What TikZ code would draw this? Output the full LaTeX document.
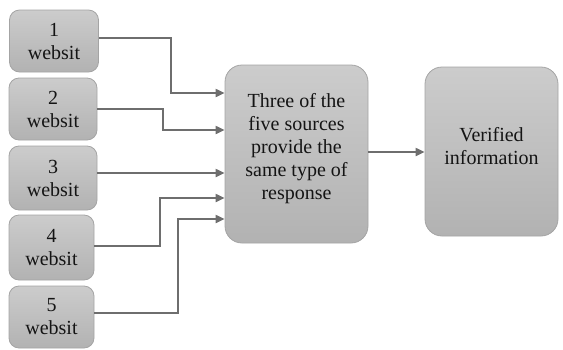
\documentclass[tikz,border=0pt]{standalone}
\usepackage{fontspec}
\setmainfont{Liberation Serif}
\newfontfamily\labelserif{Liberation Serif}
\usetikzlibrary{arrows.meta}
\definecolor{boxtop}{HTML}{CCCCCC}
\definecolor{boxbot}{HTML}{B2B2B2}
\definecolor{boxline}{HTML}{A4A4A4}
\definecolor{connline}{HTML}{6E6E6E}
\definecolor{txt}{HTML}{141414}
\tikzset{
  srcbox/.style={draw=boxline, line width=0.8pt, top color=boxtop, bottom color=boxbot,
    rounded corners=10pt, align=center, text=txt, inner sep=0pt,
    font=\labelserif\fontsize{20}{23}\selectfont},
  bigbox/.style={draw=boxline, line width=0.8pt, top color=boxtop, bottom color=boxbot,
    rounded corners=17pt, inner sep=0pt},
  boxtext/.style={align=center, text=txt, font=\labelserif\fontsize{20}{23}\selectfont},
  conn/.style={draw=connline, line width=2pt,
    -{Triangle[length=9pt,width=8pt]}}
}
\begin{document}
\begin{tikzpicture}[x=1pt,y=-1pt]
\useasboundingbox (0,0) rectangle (563,349);

% source websites
\node[srcbox, minimum width=89pt, minimum height=62pt] (w1) at (54,41) {1\\websit};
\node[srcbox, minimum width=88pt, minimum height=62pt] (w2) at (53,109) {2\\websit};
\node[srcbox, minimum width=88pt, minimum height=64pt] (w3) at (53,178) {3\\websit};
\node[srcbox, minimum width=85pt, minimum height=65pt] (w4) at (51.5,247.5) {4\\websit};
\node[srcbox, minimum width=85pt, minimum height=62pt] (w5) at (51.5,317) {5\\websit};

% comparison step and result
\node[bigbox, minimum width=143pt, minimum height=178pt,
  label={[boxtext, yshift=5pt]center:Three of the\\five sources\\provide the\\same type of\\response}]
  (mid) at (296.5,154) {};
\node[bigbox, minimum width=133pt, minimum height=169pt,
  label={[boxtext, yshift=5pt]center:Verified\\information}]
  (res) at (491.5,151.5) {};

% connectors
\draw[conn] ([yshift=3pt]w1.east) -| (171,93) -- (mid.west |- 171,93);
\draw[conn] (w2.east) -| (163,130) -- (mid.west |- 163,130);
\draw[conn] (w3.east |- 0,173) -- (mid.west |- 0,173);
\draw[conn] ([yshift=2pt]w4.east) -| (160,198) -- (mid.west |- 160,198);
\draw[conn] ([yshift=4pt]w5.east) -| (178,219) -- (mid.west |- 178,219);
\draw[conn] (mid.east |- 0,152) -- (res.west |- 0,152);
\end{tikzpicture}
\end{document}
